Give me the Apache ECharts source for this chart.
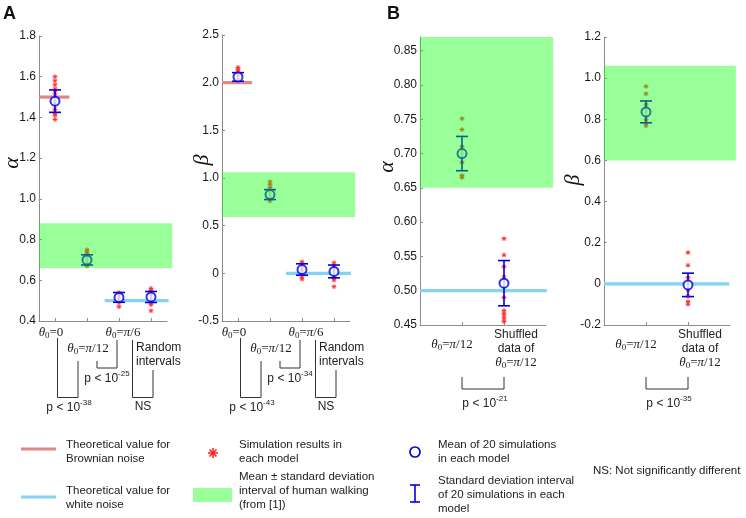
<!DOCTYPE html>
<html>
<head>
<meta charset="utf-8">
<script src="https://cdn.jsdelivr.net/npm/echarts@6/dist/echarts.min.js"></script>
<style>
html, body { margin: 0; padding: 0; background: #fff; }
#chart { width: 746px; height: 518px; }
</style>
</head>
<body>
<div id="chart"></div>
<script>
// categories sit at x = 1,2,3,4 (panel A) and x = 1,2 (panel B)
const catsA = [1, 2, 3, 4];
const catsB = [1, 2];

// Panel A, alpha
const alphaA_mean = [1.48, 0.70, 0.516, 0.518];
const alphaA_sd = [0.055, 0.025, 0.024, 0.027];
const alphaA_sims = [
  [1.60, 1.58, 1.56, 1.54, 1.52, 1.50, 1.47, 1.44, 1.42, 1.41, 1.39],
  [0.75, 0.74, 0.73, 0.71, 0.69, 0.68, 0.67],
  [0.54, 0.53, 0.52, 0.51, 0.50, 0.49, 0.47],
  [0.56, 0.55, 0.53, 0.51, 0.49, 0.48, 0.45]
];
// theory lines: [xFrom, xTo, value]; human band: [xFrom, xTo, low, high]
const alphaA_brown = [0.5, 1.45, 1.5];
const alphaA_white = [2.55, 4.55, 0.5];
const alphaA_human = [0.5, 4.66, 0.66, 0.88];

// Panel A, beta
const betaA_mean = [2.06, 0.826, 0.04, 0.02];
const betaA_sd = [0.045, 0.052, 0.06, 0.067];
const betaA_sims = [
  [2.16, 2.14, 2.12, 2.09, 2.06, 2.03, 2.01],
  [0.96, 0.93, 0.90, 0.85, 0.81, 0.78, 0.76],
  [0.12, 0.10, 0.06, 0.03, 0.0, -0.04, -0.06],
  [0.11, 0.08, 0.04, 0.0, -0.05, -0.07, -0.14]
];
const betaA_brown = [0.5, 1.44, 2.0];
const betaA_white = [2.5, 4.53, 0.0];
const betaA_human = [0.5, 4.66, 0.59, 1.06];

// Panel B, alpha
const alphaB_mean = [0.70, 0.511];
const alphaB_sd = [0.025, 0.033];
const alphaB_sims = [
  [0.751, 0.735, 0.71, 0.70, 0.687, 0.668, 0.665],
  [0.576, 0.552, 0.535, 0.52, 0.50, 0.49, 0.471, 0.467, 0.463, 0.459, 0.455]
];
const alphaB_white = [0, 3.02, 0.5];
const alphaB_human = [0, 3.17, 0.65, 0.87];

// Panel B, beta
const betaB_mean = [0.836, -0.005];
const betaB_sd = [0.053, 0.057];
const betaB_sims = [
  [0.96, 0.924, 0.87, 0.84, 0.80, 0.78, 0.768],
  [0.152, 0.09, 0.03, 0.0, -0.03, -0.06, -0.086, -0.099]
];
const betaB_white = [0, 2.98, 0.0];
const betaB_human = [0, 3.14, 0.60, 1.06];

const BLUE = '#0000dc';
const RED = '#ff3030';
const PINK = '#e08686';
const CYAN = '#84d2f4';
const GREEN = 'rgba(0,255,0,0.4)';

function seg(x1, y1, x2, y2, stroke, w) {
  return { type: 'line', shape: { x1, y1, x2, y2 }, style: { stroke, lineWidth: w } };
}

function renderStar(params, api) {
  const p = api.coord([api.value(0), api.value(1)]);
  const r = 2.4, d = 1.7;
  return { type: 'group', children: [
    seg(p[0] - r, p[1], p[0] + r, p[1], RED, 1),
    seg(p[0], p[1] - r, p[0], p[1] + r, RED, 1),
    seg(p[0] - d, p[1] - d, p[0] + d, p[1] + d, RED, 1),
    seg(p[0] - d, p[1] + d, p[0] + d, p[1] - d, RED, 1)
  ] };
}

function renderErr(params, api) {
  const x = api.value(0), m = api.value(1), s = api.value(2);
  const top = api.coord([x, m + s]), bot = api.coord([x, m - s]);
  const w = 6;
  return { type: 'group', children: [
    seg(top[0], top[1], bot[0], bot[1], BLUE, 1.6),
    seg(top[0] - w, top[1], top[0] + w, top[1], BLUE, 1.6),
    seg(bot[0] - w, bot[1], bot[0] + w, bot[1], BLUE, 1.6)
  ] };
}

function levelRenderer(color) {
  return function (params, api) {
    const a = api.coord([api.value(0), api.value(2)]);
    const b = api.coord([api.value(1), api.value(2)]);
    return seg(a[0], a[1], b[0], b[1], color, 3.2);
  };
}

function renderBand(params, api) {
  const a = api.coord([api.value(0), api.value(3)]);
  const b = api.coord([api.value(1), api.value(2)]);
  return { type: 'rect', shape: { x: a[0], y: a[1], width: b[0] - a[0], height: b[1] - a[1] },
    style: { fill: GREEN } };
}

function panelSeries(i, cats, mean, sd, sims, brown, white, human) {
  const stars = [];
  sims.forEach((arr, k) => arr.forEach(v => stars.push([cats[k], v])));
  const out = [];
  const base = { xAxisIndex: i, yAxisIndex: i, silent: true, clip: false };
  out.push(Object.assign({ type: 'custom', z: 2, renderItem: renderStar, data: stars }, base));
  if (brown) out.push(Object.assign({ type: 'custom', z: 3, renderItem: levelRenderer(PINK), data: [brown] }, base));
  out.push(Object.assign({ type: 'custom', z: 3, renderItem: levelRenderer(CYAN), data: [white] }, base));
  out.push(Object.assign({ type: 'custom', z: 4, renderItem: renderErr,
    data: cats.map((c, k) => [c, mean[k], sd[k]]) }, base));
  out.push(Object.assign({ type: 'scatter', z: 5, symbol: 'emptyCircle', symbolSize: 9,
    itemStyle: { color: BLUE, borderColor: BLUE, borderWidth: 1.7 },
    data: cats.map((c, k) => [c, mean[k]]) }, base));
  out.push(Object.assign({ type: 'custom', z: 10, renderItem: renderBand, data: [human] }, base));
  return out;
}

function xAx(i, min, max, ticks) {
  return {
    gridIndex: i, type: 'value', min, max,
    axisLine: { onZero: false, lineStyle: { color: '#8c8c8c' } },
    axisTick: { show: true, inside: true, length: 3, customValues: ticks, lineStyle: { color: '#8c8c8c' } },
    axisLabel: { show: false }, splitLine: { show: false }
  };
}

function yAx(i, min, max, interval, formatter, showMax) {
  return {
    gridIndex: i, type: 'value', min, max, interval,
    axisLine: { show: true, onZero: false, lineStyle: { color: '#8c8c8c' } },
    axisTick: { show: true, inside: true, length: 3, lineStyle: { color: '#8c8c8c' } },
    axisLabel: { color: '#1a1a1a', fontSize: 12, fontFamily: 'Liberation Sans', margin: 3,
      showMaxLabel: showMax !== false, formatter },
    splitLine: { show: false }
  };
}

const chart = echarts.init(document.getElementById('chart'));
chart.setOption({
  animation: false,
  backgroundColor: '#fff',
  grid: [
    { left: 39, top: 36, width: 128, height: 285 },
    { left: 222, top: 35, width: 128, height: 286 },
    { left: 420, top: 37, width: 126, height: 288 },
    { left: 604, top: 37, width: 126, height: 288 }
  ],
  xAxis: [
    xAx(0, 0.5, 4.5, catsA), xAx(1, 0.5, 4.5, catsA),
    xAx(2, 0, 3, catsB), xAx(3, 0, 3, catsB)
  ],
  yAxis: [
    yAx(0, 0.4, 1.8, 0.2, v => v.toFixed(1)),
    yAx(1, -0.5, 2.5, 0.5, v => (Math.abs(v) < 1e-9 ? '0' : v.toFixed(1))),
    yAx(2, 0.45, 0.87, 0.05, v => v.toFixed(2), false),
    yAx(3, -0.2, 1.2, 0.2, v => (Math.abs(v) < 1e-9 ? '0' : v.toFixed(1)))
  ],
  series: [].concat(
    panelSeries(0, catsA, alphaA_mean, alphaA_sd, alphaA_sims, alphaA_brown, alphaA_white, alphaA_human),
    panelSeries(1, catsA, betaA_mean, betaA_sd, betaA_sims, betaA_brown, betaA_white, betaA_human),
    panelSeries(2, catsB, alphaB_mean, alphaB_sd, alphaB_sims, null, alphaB_white, alphaB_human),
    panelSeries(3, catsB, betaB_mean, betaB_sd, betaB_sims, null, betaB_white, betaB_human)
  )
});

// ---- annotations: labels, brackets, legend ----
const SANS = '"Liberation Sans", Arial, sans-serif';
const SERIF = '"Liberation Serif", "Times New Roman", serif';
const richTheta = {
  t: { fontFamily: SERIF, fontStyle: 'italic', fontSize: 13, lineHeight: 14, fill: '#222' },
  z: { fontFamily: SERIF, fontSize: 9, lineHeight: 6, verticalAlign: 'bottom', fill: '#222' },
  r: { fontFamily: SERIF, fontSize: 13, lineHeight: 14, fill: '#222' },
  a: { fontFamily: SANS, fontSize: 12, lineHeight: 14, fill: '#222' },
  n: { fontFamily: SANS, fontSize: 12, lineHeight: 15, verticalAlign: 'bottom', fill: '#222' },
  s: { fontFamily: SANS, fontSize: 8, lineHeight: 8, verticalAlign: 'top', fill: '#222' }
};
const theta = v => '{t|θ}{z|0}{r|=}' + v;
const th0 = theta('{r|0}');
const th12 = theta('{t|π}{r|/12}');
const th6 = theta('{t|π}{r|/6}');
const pLess = e => '{n|p < 10}{s|' + e + '}';

function txt(x, y, text, align, vAlign, extra) {
  return { type: 'text', silent: true, z: 20, style: Object.assign({
    x, y, text, rich: richTheta, align: align || 'center', textAlign: align || 'center',
    verticalAlign: vAlign || 'middle', textVerticalAlign: vAlign || 'middle',
    font: '12px ' + SANS, fill: '#222'
  }, extra || {}) };
}
function poly(points) {
  return { type: 'polyline', silent: true, z: 20, shape: { points },
    style: { stroke: '#333', lineWidth: 1, fill: null } };
}
const X = (i, v) => chart.convertToPixel({ xAxisIndex: i }, v);

const g = [];
// panel A annotation blocks
[[0, '-38', '-25'], [1, '-43', '-34']].forEach(([i, e1, e2]) => {
  const c = catsA.map(v => X(i, v));
  g.push(txt(c[0] - 4, 333, th0));
  g.push(txt(c[1] + 1, 349, th12));
  g.push(txt(c[2] + 4, 333, th6));
  g.push(txt(c[3] - 15, 341, '{a|Random}\n{a|intervals}', 'left', 'top'));
  g.push(poly([[c[0] + 2.5, 338], [c[0] + 2.5, 397.5], [c[1] - 9, 397.5], [c[1] - 9, 361]]));
  g.push(poly([[c[1] + 10, 361], [c[1] + 10, 368], [c[2] - 2, 368], [c[2] - 2, 340]]));
  g.push(poly([[c[3] - 18.5, 340], [c[3] - 18.5, 397.5], [c[3] + 2, 397.5], [c[3] + 2, 370]]));
  g.push(txt(c[0] + 14, 406, pLess(e1)));
  g.push(txt(c[1] + 20, 377, pLess(e2)));
  g.push(txt(c[3] - 8, 407, '{a|NS}'));
});
// panel B annotation blocks
[[2, '-21'], [3, '-35']].forEach(([i, e]) => {
  const c = catsB.map(v => X(i, v));
  g.push(txt(c[0] - 10, 345, th12));
  g.push(txt(c[1] + 12, 328, '{a|Shuffled}\n{a|data of}\n' + th12, 'center', 'top'));
  g.push(poly([[c[0], 377], [c[0], 389], [c[1], 389], [c[1], 377]]));
  g.push(txt((c[0] + c[1]) / 2 + 2, 402, pLess(e)));
});

// axis names and panel letters
const greek = (x, y, ch) => ({ type: 'text', silent: true, z: 20, x, y, rotation: Math.PI / 2,
  style: { text: ch, x: 0, y: 0, align: 'center', textAlign: 'center', verticalAlign: 'middle',
    textVerticalAlign: 'middle', font: 'italic 22px ' + SERIF, fill: '#111' } });
g.push(greek(12, 163, 'α'), greek(202, 160, 'β'), greek(387, 167, 'α'), greek(573, 180, 'β'));
g.push(txt(3, 14, 'A', 'left', 'middle', { font: 'bold 18px ' + SANS, fill: '#111' }));
g.push(txt(387, 14, 'B', 'left', 'middle', { font: 'bold 18px ' + SANS, fill: '#111' }));

// legend
const legFont = { font: '11.5px ' + SANS, fill: '#222', lineHeight: 14 };
g.push(seg(21, 449, 56, 449, PINK, 3.2));
g.push(txt(66, 438, 'Theoretical value for\nBrownian noise', 'left', 'top', legFont));
g.push(seg(21, 497, 56, 497, CYAN, 3.2));
g.push(txt(66, 484, 'Theoretical value for\nwhite noise', 'left', 'top', legFont));
[[208, 453, 218, 453], [213, 448, 213, 458], [209.5, 449.5, 216.5, 456.5], [209.5, 456.5, 216.5, 449.5]]
  .forEach(s => g.push(seg(s[0], s[1], s[2], s[3], '#ff1a1a', 1.5)));
g.push(txt(239, 438, 'Simulation results in\neach model', 'left', 'top', legFont));
g.push({ type: 'rect', shape: { x: 193, y: 488, width: 39, height: 14 }, style: { fill: '#99ff99' } });
g.push(txt(239, 470, 'Mean ± standard deviation\ninterval of human walking\n(from [1])', 'left', 'top', legFont));
g.push({ type: 'circle', shape: { cx: 415, cy: 452, r: 5 }, style: { stroke: BLUE, lineWidth: 1.7, fill: null } });
g.push(txt(438, 438, 'Mean of 20 simulations\nin each model', 'left', 'top', legFont));
[[415, 485, 415, 502], [410, 485, 420, 485], [410, 502, 420, 502]]
  .forEach(s => g.push(seg(s[0], s[1], s[2], s[3], BLUE, 1.6)));
g.push(txt(438, 474, 'Standard deviation interval\nof 20 simulations in each\nmodel', 'left', 'top', legFont));
g.push(txt(593, 471, 'NS: Not significantly different', 'left', 'middle', legFont));

chart.setOption({ graphic: g.map(e => Object.assign({ silent: true, z: 20 }, e)) });
</script>
</body>
</html>
